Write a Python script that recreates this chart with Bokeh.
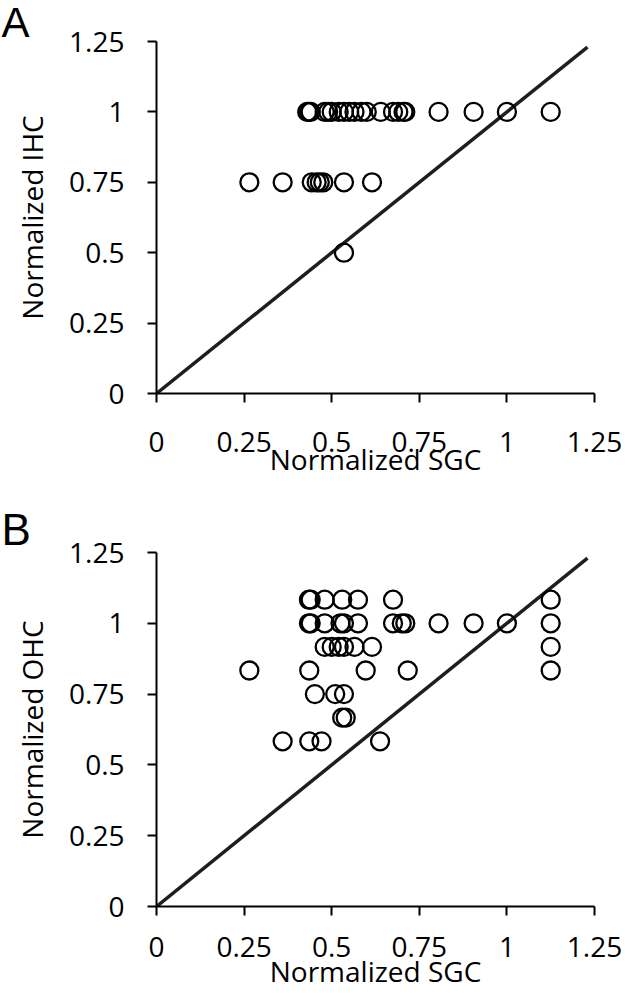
from bokeh.plotting import figure
from bokeh.layouts import column
from bokeh.models import FixedTicker, Title
from bokeh.embed import file_html
from bokeh.resources import INLINE

# ---- data ----
ticks = [0, 0.25, 0.5, 0.75, 1, 1.25]
tick_labels = ["0", "0.25", "0.5", "0.75", "1", "1.25"]

# Panel A: normalized SGC vs normalized IHC
ihc_sgc = [0.43, 0.435, 0.44, 0.48, 0.49, 0.50, 0.52, 0.535, 0.55, 0.565, 0.585,
           0.60, 0.64, 0.675, 0.69, 0.705, 0.71, 0.805, 0.905, 1.0, 1.125,
           0.265, 0.36, 0.443, 0.457, 0.466, 0.476, 0.535, 0.615,
           0.535]
ihc_val = [1.0] * 21 + [0.75] * 8 + [0.5]

# Panel B: normalized SGC vs normalized OHC
ohc_sgc = [0.435, 0.44, 0.48, 0.53, 0.575, 0.675, 1.125,
           0.435, 0.44, 0.48, 0.525, 0.535, 0.575, 0.675, 0.70, 0.71, 0.805, 0.905, 1.0, 1.125,
           0.48, 0.50, 0.52, 0.535, 0.565, 0.615, 1.125,
           0.265, 0.436, 0.597, 0.717, 1.125,
           0.452, 0.51, 0.535,
           0.53, 0.54,
           0.36, 0.436, 0.471, 0.638]
ohc_val = ([1.0833] * 7 + [1.0] * 13 + [0.9167] * 7 + [0.8333] * 5 +
           [0.75] * 3 + [0.6667] * 2 + [0.5833] * 4)

identity = [0, 1.23]

FONT = "Open Sans"
FS = "28px"


def make_panel(xs, ys, ylabel, panel, fw, fh, left, top, bottom, right,
               xl_standoff, title_offset, title_standoff, title_size):
    p = figure(x_range=(0, 1.25), y_range=(0, 1.25),
               frame_width=fw, frame_height=fh,
               min_border_left=left, min_border_top=top,
               min_border_bottom=bottom, min_border_right=right,
               output_backend="svg", toolbar_location=None)
    p.outline_line_color = None
    p.grid.visible = False
    p.background_fill_color = "white"
    p.border_fill_color = "white"

    p.line(identity, identity, line_color="#1e1e1e", line_width=3.5)
    p.scatter(xs, ys, marker="circle", size=18, fill_alpha=0,
              line_color="black", line_width=2.3)

    for ax in (p.xaxis[0], p.yaxis[0]):
        ax.ticker = FixedTicker(ticks=ticks)
        ax.major_label_overrides = {t: l for t, l in zip(ticks, tick_labels)}
        ax.minor_tick_line_color = None
        ax.major_tick_in = 0
        ax.major_tick_out = 9
        ax.major_tick_line_width = 2
        ax.axis_line_width = 2
        ax.axis_line_color = "black"
        ax.major_tick_line_color = "black"
        ax.major_label_text_font = FONT
        ax.major_label_text_font_size = FS
        ax.major_label_text_color = "black"
        ax.axis_label_text_font = FONT
        ax.axis_label_text_font_size = FS
        ax.axis_label_text_font_style = "normal"
        ax.axis_label_text_color = "black"

    p.yaxis.axis_label = ylabel
    p.xaxis.major_label_standoff = xl_standoff
    p.yaxis.major_label_standoff = 23
    p.yaxis.axis_label_standoff = 15

    p.title.text = panel
    p.title.align = "left"
    p.title.offset = title_offset
    p.title.standoff = title_standoff
    p.title.text_font = "Liberation Sans"
    p.title.text_font_size = title_size
    p.title.text_font_style = "normal"
    p.title.text_color = "black"
    return p


pa = make_panel(ihc_sgc, ihc_val, "Normalized IHC", "A",
                438, 352, 156, 41, 91, 31, 29, -155, -9, "42px")
pa.xaxis.axis_label = "Normalized SGC"
pa.xaxis.axis_label_standoff = -15

pb = make_panel(ohc_sgc, ohc_val, "Normalized OHC", "B",
                438, 354, 156, 68, 85, 31, 21, -155, -3, "44px")
pb.add_layout(Title(text="Normalized SGC", align="center", vertical_align="top",
                    standoff=-15, text_font=FONT, text_font_size=FS,
                    text_font_style="normal", text_color="black"), "below")

layout = column(pa, pb, spacing=0)
open("out.html", "w").write(file_html(layout, INLINE))
